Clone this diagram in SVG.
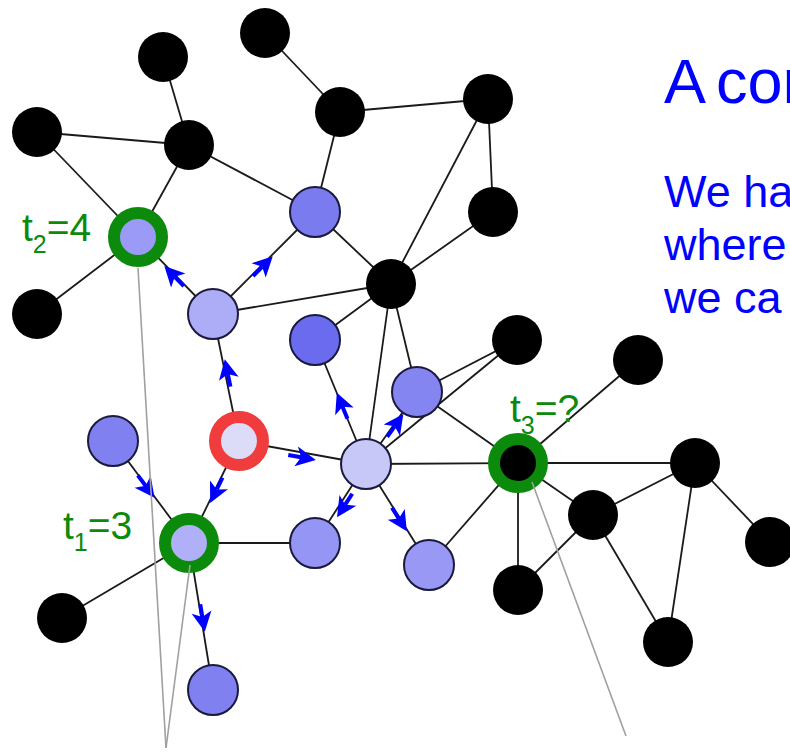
<svg xmlns="http://www.w3.org/2000/svg" xmlns:xlink="http://www.w3.org/1999/xlink" width="790" height="755" viewBox="0 0 790 755">
<style>
.e{stroke:#1a1a1a;stroke-width:1.8;fill:none}
.g{stroke:#a0a0a0;stroke-width:1.6;fill:none}
.b{fill:#000}
.u{stroke:#1a1a3c;stroke-width:2}
.ring{stroke-width:12}
.lbl{font-family:"Liberation Sans",Arial,sans-serif;font-size:39px;fill:#0b8a0b}
.txt{font-family:"Liberation Sans",Arial,sans-serif;fill:#0000ff}
</style>
<defs>
<g id="arr"><path d="M-17,0 H-4" stroke="#0000ff" stroke-width="4"/><path d="M11,0 L-9,-10 L-4,0 L-9,10 Z" fill="#0000ff"/></g>
</defs>
<rect width="790" height="755" fill="#fff"/>
<g id="connectors">
<line class="e" x1="163" y1="57" x2="189" y2="145"/>
<line class="e" x1="37" y1="132" x2="189" y2="145"/>
<line class="e" x1="37" y1="132" x2="138" y2="237"/>
<line class="e" x1="189" y1="145" x2="138" y2="237"/>
<line class="e" x1="189" y1="145" x2="315" y2="212"/>
<line class="e" x1="265" y1="33" x2="340" y2="112"/>
<line class="e" x1="340" y1="112" x2="488" y2="99"/>
<line class="e" x1="340" y1="112" x2="315" y2="212"/>
<line class="e" x1="488" y1="99" x2="493" y2="212"/>
<line class="e" x1="488" y1="99" x2="391" y2="284"/>
<line class="e" x1="493" y1="212" x2="391" y2="284"/>
<line class="e" x1="315" y1="212" x2="391" y2="284"/>
<line class="e" x1="213" y1="314" x2="315" y2="212"/>
<line class="e" x1="213" y1="314" x2="138" y2="237"/>
<line class="e" x1="37" y1="314" x2="138" y2="237"/>
<line class="e" x1="213" y1="314" x2="391" y2="284"/>
<line class="e" x1="239" y1="441" x2="213" y2="314"/>
<line class="e" x1="391" y1="284" x2="315" y2="340"/>
<line class="e" x1="391" y1="284" x2="366" y2="464"/>
<line class="e" x1="391" y1="284" x2="417" y2="392"/>
<line class="e" x1="366" y1="464" x2="315" y2="340"/>
<line class="e" x1="366" y1="464" x2="417" y2="392"/>
<line class="e" x1="417" y1="392" x2="517" y2="340"/>
<line class="e" x1="366" y1="464" x2="517" y2="340"/>
<line class="e" x1="417" y1="392" x2="518" y2="463"/>
<line class="e" x1="366" y1="464" x2="518" y2="463"/>
<line class="e" x1="239" y1="441" x2="366" y2="464"/>
<line class="e" x1="239" y1="441" x2="189" y2="543"/>
<line class="e" x1="113" y1="441" x2="189" y2="543"/>
<line class="e" x1="189" y1="543" x2="315" y2="543"/>
<line class="e" x1="189" y1="543" x2="62" y2="618"/>
<line class="e" x1="189" y1="543" x2="213" y2="690"/>
<line class="e" x1="366" y1="464" x2="315" y2="543"/>
<line class="e" x1="366" y1="464" x2="429" y2="565"/>
<line class="e" x1="429" y1="565" x2="518" y2="463"/>
<line class="e" x1="518" y1="463" x2="638" y2="360"/>
<line class="e" x1="518" y1="463" x2="695" y2="463"/>
<line class="e" x1="518" y1="463" x2="593" y2="515"/>
<line class="e" x1="518" y1="463" x2="518" y2="590"/>
<line class="e" x1="518" y1="590" x2="593" y2="515"/>
<line class="e" x1="593" y1="515" x2="695" y2="463"/>
<line class="e" x1="695" y1="463" x2="770" y2="542"/>
<line class="e" x1="695" y1="463" x2="668" y2="642"/>
<line class="e" x1="593" y1="515" x2="668" y2="642"/>
<use xlink:href="#arr" transform="translate(172,274) rotate(-134.2)"/>
<use xlink:href="#arr" transform="translate(265,264) rotate(-45)"/>
<use xlink:href="#arr" transform="translate(227,370) rotate(-101.6)"/>
<use xlink:href="#arr" transform="translate(215,493) rotate(116.1)"/>
<use xlink:href="#arr" transform="translate(148,489) rotate(53.3)"/>
<use xlink:href="#arr" transform="translate(305,458) rotate(10.3)"/>
<use xlink:href="#arr" transform="translate(341,403) rotate(-112.4)"/>
<use xlink:href="#arr" transform="translate(397,423) rotate(-54.7)"/>
<use xlink:href="#arr" transform="translate(343,508) rotate(122.8)"/>
<use xlink:href="#arr" transform="translate(401,522) rotate(58)"/>
<use xlink:href="#arr" transform="translate(203,621) rotate(80.7)"/>
</g>
<g id="nodes">
<g id="nA"><circle class="b" cx="163" cy="57" r="25"/></g>
<g id="nB"><circle class="b" cx="37" cy="132" r="25"/></g>
<g id="nC"><circle class="b" cx="189" cy="145" r="25"/></g>
<g id="nD"><circle class="b" cx="265" cy="33" r="25"/></g>
<g id="nE"><circle class="b" cx="340" cy="112" r="25"/></g>
<g id="nF"><circle class="b" cx="488" cy="99" r="25"/></g>
<g id="nG"><circle class="b" cx="493" cy="212" r="25"/></g>
<g id="nH"><circle class="u" cx="315" cy="212" r="25" fill="#7b7bf0"/></g>
<g id="nI"><circle class="b" cx="37" cy="314" r="25"/></g>
<g id="nJ"><circle class="u" cx="213" cy="314" r="25" fill="#adadf7"/></g>
<g id="nM"><circle class="b" cx="391" cy="284" r="25"/></g>
<g id="nN"><circle class="u" cx="315" cy="340" r="25" fill="#6b6bf0"/></g>
<g id="nO"><circle class="u" cx="417" cy="392" r="25" fill="#8585f2"/></g>
<g id="nQ"><circle class="b" cx="517" cy="340" r="25"/></g>
<g id="nL"><circle class="u" cx="113" cy="441" r="25" fill="#8080f0"/></g>
<g id="nP"><circle class="u" cx="366" cy="464" r="25" fill="#c8c8f8"/></g>
<g id="nS"><circle class="b" cx="638" cy="360" r="25"/></g>
<g id="nT"><circle class="b" cx="695" cy="463" r="25"/></g>
<g id="nU"><circle class="b" cx="593" cy="515" r="25"/></g>
<g id="nV"><circle class="b" cx="770" cy="542" r="25"/></g>
<g id="nW"><circle class="b" cx="518" cy="590" r="25"/></g>
<g id="nX"><circle class="b" cx="668" cy="642" r="25"/></g>
<g id="nZ"><circle class="b" cx="62" cy="618" r="25"/></g>
<g id="nAA"><circle class="u" cx="213" cy="690" r="25" fill="#8080f0"/></g>
<g id="nBB"><circle class="u" cx="315" cy="543" r="25" fill="#9595f5"/></g>
<g id="nCC"><circle class="u" cx="429" cy="565" r="25" fill="#9999f5"/></g>
<g id="nK"><circle class="ring" cx="239" cy="441" r="24" fill="#dcdcf8" stroke="#f03c3c"/></g>
<g id="nT2"><circle class="ring" cx="138" cy="237" r="24" fill="#9b9bf7" stroke="#0b8a0b"/></g>
<g id="nT1"><circle class="ring" cx="189" cy="543" r="24" fill="#b0b0f8" stroke="#0b8a0b"/></g>
<g id="nT3"><circle class="ring" cx="518" cy="463" r="24" fill="#000" stroke="#0b8a0b"/></g>
</g>
<g id="pointers">
<line class="g" x1="138" y1="268" x2="166" y2="748"/>
<line class="g" x1="190" y1="565" x2="166" y2="748"/>
<line class="g" x1="532" y1="482" x2="626" y2="736"/>
</g>
<g id="labels">
<text class="lbl" x="22" y="241">t<tspan dy="12" font-size="25">2</tspan><tspan dy="-12">=4</tspan></text>
<text class="lbl" x="63" y="539">t<tspan dy="12" font-size="25">1</tspan><tspan dy="-12">=3</tspan></text>
<text class="lbl" x="510" y="422">t<tspan dy="12" font-size="25">3</tspan><tspan dy="-12">=?</tspan></text>
<text class="txt" x="664" y="103" font-size="63">A<tspan x="716">con</tspan></text>
<text class="txt" x="664" y="207" font-size="45">We ha</text>
<text class="txt" x="664" y="260" font-size="45">where</text>
<text class="txt" x="664" y="313" font-size="45">we ca</text>
</g>
</svg>
